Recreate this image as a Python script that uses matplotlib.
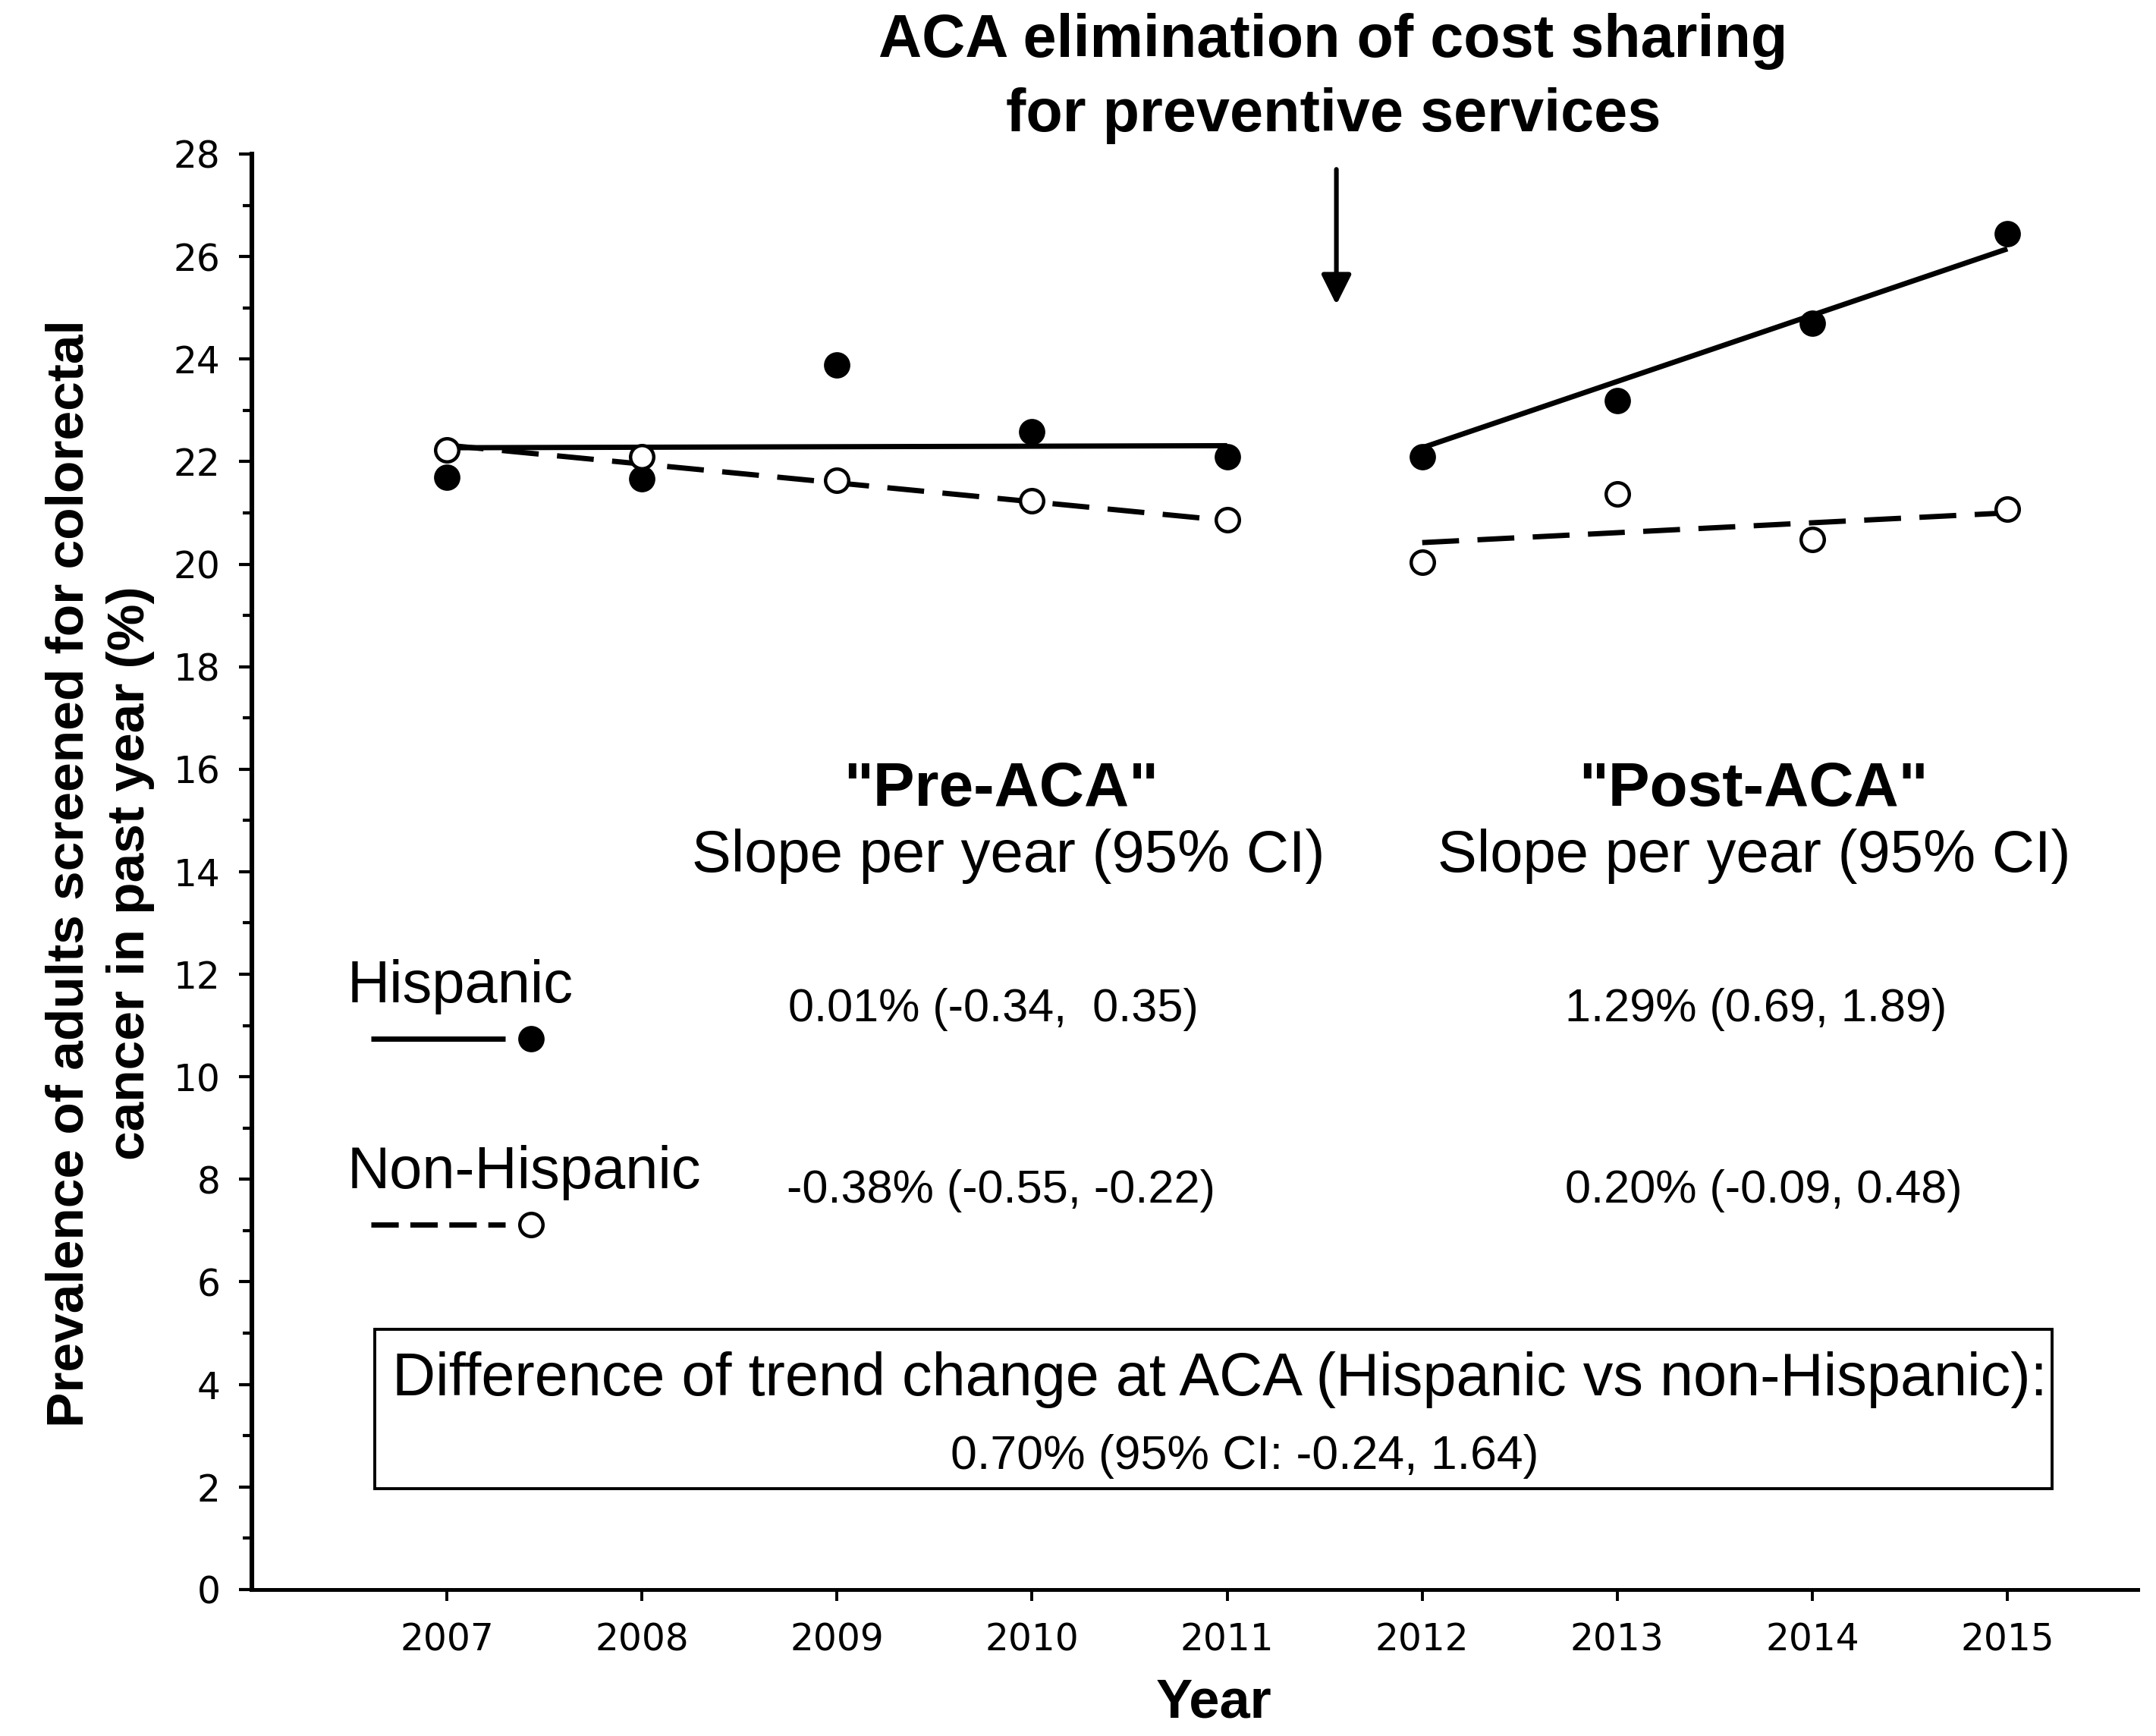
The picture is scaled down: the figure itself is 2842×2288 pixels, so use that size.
import matplotlib
matplotlib.use("Agg")
import matplotlib.pyplot as plt
from matplotlib import font_manager as fm
from matplotlib.patches import Rectangle
from matplotlib.ticker import MultipleLocator

# ---- data ----
years_pre = [2007, 2008, 2009, 2010, 2011]
years_post = [2012, 2013, 2014, 2015]
hisp_pre = [21.69, 21.66, 23.89, 22.58, 22.09]
hisp_post = [22.09, 23.19, 24.70, 26.44]
nonhisp_pre = [22.23, 22.09, 21.64, 21.23, 20.86]
nonhisp_post = [20.03, 21.37, 20.48, 21.07]
# fitted trend lines (endpoints)
fit_years_pre = [2007, 2011]
fit_years_post = [2012, 2015]
fit_hisp_pre = [22.27, 22.31]
fit_hisp_post = [22.27, 26.15]
fit_nonhisp_pre = [22.32, 20.85]
fit_nonhisp_post = [20.42, 21.00]

xticks = [2007, 2008, 2009, 2010, 2011, 2012, 2013, 2014, 2015]
yticks = list(range(0, 29, 2))

pre_slopes = ["0.01% (-0.34,  0.35)", "-0.38% (-0.55, -0.22)"]
post_slopes = ["1.29% (0.69, 1.89)", "0.20% (-0.09, 0.48)"]
diff_line1 = "Difference of trend change at ACA (Hispanic vs non-Hispanic):"
diff_line2 = "0.70% (95% CI: -0.24, 1.64)"

installed = {f.name for f in fm.fontManager.ttflist}
if 'DejaVu Sans Condensed' in installed:
    TICKFAM, TICKSIZE = ['DejaVu Sans Condensed', 'DejaVu Sans'], 18.5
else:
    TICKFAM, TICKSIZE = ['DejaVu Sans'], 17.5
SANS = ['Liberation Sans', 'DejaVu Sans']

fig = plt.figure(figsize=(14.21, 11.44), dpi=200)
ax = fig.add_axes([0.1168, 0.0844, 0.8749, 0.8269])

lw = 2.5
dash = (0, (7, 3.5))
ax.plot(fit_years_pre, fit_hisp_pre, color='black', lw=lw, solid_capstyle='butt', zorder=2)
ax.plot(fit_years_post, fit_hisp_post, color='black', lw=lw, solid_capstyle='butt', zorder=2)
ax.plot(fit_years_pre, fit_nonhisp_pre, color='black', lw=lw, ls=dash, zorder=2)
ax.plot(fit_years_post, fit_nonhisp_post, color='black', lw=lw, ls=dash, zorder=2)

ax.plot(years_pre + years_post, hisp_pre + hisp_post, 'o', color='black',
        ms=11.5, ls='none', zorder=3)
ax.plot(years_pre + years_post, nonhisp_pre + nonhisp_post, 'o', mfc='white',
        mec='black', mew=1.6, ms=11, ls='none', zorder=3)

ax.set_xlim(2006.0, 2015.67)
ax.set_ylim(0, 28)
ax.set_xticks(xticks)
ax.set_xticklabels([str(y) for y in xticks], fontsize=TICKSIZE, family=TICKFAM)
ax.set_yticks(yticks)
ax.set_yticklabels([str(y) for y in yticks], fontsize=TICKSIZE, family=TICKFAM)
ax.yaxis.set_minor_locator(MultipleLocator(1))
ax.tick_params(axis='y', which='major', length=6, width=1.5, direction='out', pad=9)
ax.tick_params(axis='y', which='minor', length=4.3, width=1.5, direction='out')
ax.tick_params(axis='x', which='major', length=5.5, width=1.4, direction='out', pad=10)
for s in ['top', 'right']:
    ax.spines[s].set_visible(False)
ax.spines['left'].set_linewidth(2.2)
ax.spines['bottom'].set_linewidth(1.8)

# axis titles
fig.text(0.563, 0.0109, 'Year', ha='center', va='baseline', fontsize=26,
         fontweight='bold', family=SANS)
fig.text(0.0462, 0.497, 'Prevalence of adults screened for colorectal\ncancer in past year (%)',
         rotation=90, ha='center', va='center', multialignment='center',
         fontsize=25, fontweight='bold', family=SANS, linespacing=1.33)

# title / annotation
fig.text(0.6184, 0.9672, 'ACA elimination of cost sharing', ha='center', va='baseline',
         fontsize=28.5, fontweight='bold', family=SANS)
fig.text(0.6184, 0.9244, 'for preventive services', ha='center', va='baseline',
         fontsize=28.5, fontweight='bold', family=SANS)
ax.annotate('', xy=(2011.56, 25.06), xytext=(2011.56, 27.7),
            arrowprops=dict(arrowstyle='-|>,head_length=0.6,head_width=0.3',
                            color='black', lw=2.2, mutation_scale=20,
                            shrinkA=0, shrinkB=0),
            annotation_clip=False)

# slope table
ax.text(2009.84, 15.28, '"Pre-ACA"', ha='center', va='baseline', fontsize=29.5,
        fontweight='bold', family=SANS)
ax.text(2009.88, 14.0, 'Slope per year (95% CI)', ha='center', va='baseline',
        fontsize=28, family=SANS)
ax.text(2013.70, 15.28, '"Post-ACA"', ha='center', va='baseline', fontsize=29.5,
        fontweight='bold', family=SANS)
ax.text(2013.70, 14.0, 'Slope per year (95% CI)', ha='center', va='baseline',
        fontsize=28, family=SANS)

ax.text(2009.80, 11.09, pre_slopes[0], ha='center', va='baseline', fontsize=22, family=SANS)
ax.text(2013.71, 11.09, post_slopes[0], ha='center', va='baseline', fontsize=22, family=SANS)
ax.text(2009.84, 7.54, pre_slopes[1], ha='center', va='baseline', fontsize=22, family=SANS)
ax.text(2013.75, 7.54, post_slopes[1], ha='center', va='baseline', fontsize=22, family=SANS)

# inline legend
ax.text(2006.49, 11.76, 'Hispanic', ha='left', va='center', fontsize=28, family=SANS)
ax.plot([2006.61, 2007.30], [10.74, 10.74], color='black', lw=lw, solid_capstyle='butt')
ax.plot([2007.43], [10.74], 'o', color='black', ms=11.5)
ax.text(2006.49, 8.13, 'Non-Hispanic', ha='left', va='center', fontsize=28, family=SANS)
ax.plot([2006.61, 2007.30], [7.11, 7.11], color='black', lw=lw, ls=(0, (5.2, 2.2)))
ax.plot([2007.43], [7.11], 'o', mfc='white', mec='black', mew=1.6, ms=11)

# difference box
ax.add_patch(Rectangle((2006.63, 1.96), 2015.23 - 2006.63, 5.07 - 1.96,
                       fill=False, lw=1.4, edgecolor='black', zorder=1))
ax.text(2010.96, 3.79, diff_line1, ha='center', va='baseline', fontsize=28.5, family=SANS)
ax.text(2011.09, 2.35, diff_line2, ha='center', va='baseline', fontsize=22.5, family=SANS)

fig.savefig('out.png', dpi=200)
